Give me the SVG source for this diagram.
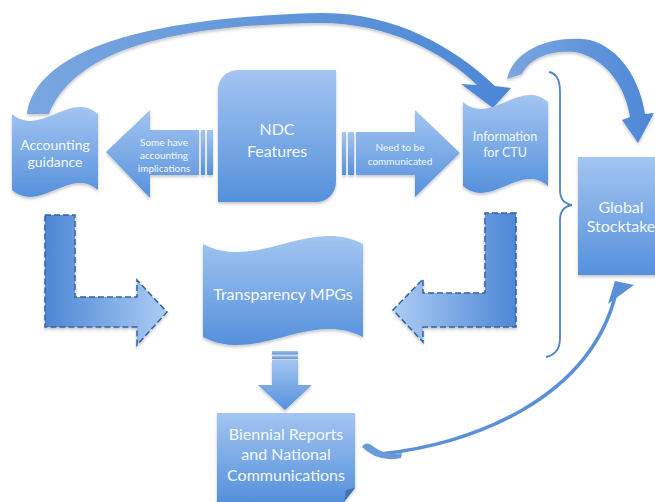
<svg xmlns="http://www.w3.org/2000/svg" width="655" height="502" viewBox="0 0 655 502">
<defs>
<linearGradient id="gNode" x1="0" y1="0" x2="0" y2="1">
<stop offset="0" stop-color="#a3c5f1"/><stop offset="1" stop-color="#5591dc"/>
</linearGradient>
<linearGradient id="gArc" x1="0" y1="0" x2="1" y2="0">
<stop offset="0" stop-color="#7aa6e0"/><stop offset="1" stop-color="#4c87d6"/>
</linearGradient>
<linearGradient id="gLL" x1="0" y1="0" x2="1" y2="0">
<stop offset="0" stop-color="#4c87d6"/><stop offset="1" stop-color="#acccf3"/>
</linearGradient>
<linearGradient id="gRL" x1="1" y1="0" x2="0" y2="0">
<stop offset="0" stop-color="#4c87d6"/><stop offset="1" stop-color="#acccf3"/>
</linearGradient>
<filter id="sh" x="-10%" y="-10%" width="120%" height="125%">
<feDropShadow dx="0" dy="2" stdDeviation="1.5" flood-color="#000" flood-opacity="0.22"/>
</filter>
<style>
.node{fill:url(#gNode);filter:url(#sh);}
.arc{fill:url(#gArc);filter:url(#sh);}
.t{fill:#f4f8fe;font-family:Lato,"Open Sans",sans-serif;text-anchor:middle;}
.big{font-size:16px;}
.mid{font-size:14px;}
.info{font-size:12.5px;}
.sm{font-size:10px;}
.dash{stroke:#35629e;stroke-width:1.5;stroke-dasharray:6 3;filter:url(#sh);}
.brace{fill:none;stroke:#5283c4;stroke-width:1.8;}
</style>
</defs>

<g id="connectors">
<path id="arc-top" class="arc" d="M 27,114 C 35,55 130,18 320,13 C 395,12 455,48 495,86 L 511,88 L 493,108 L 461,84 L 477,85 C 443,52 388,23 320,23 C 150,25 72,58 49,114 Z"/>
<path id="arc-right" class="arc" d="M 507,79 C 515,45 560,35 590,40 C 620,48 640,80 645,114 L 654,113 L 638,143 L 622,120 L 630,117 C 625,85 605,58 575,52 C 550,50 530,58 522,74 Z"/>
<g id="arrow-left">
<rect x="201" y="130" width="4" height="45" class="node"/>
<rect x="207" y="130" width="6" height="45" class="node"/>
<path class="node" d="M 199,130 L 150,130 L 150,110 L 106,152 L 150,198 L 150,175 L 199,175 Z"/>
</g>
<g id="arrow-right">
<rect x="342" y="132" width="4" height="43" class="node"/>
<rect x="348" y="132" width="6" height="43" class="node"/>
<path class="node" d="M 356,132 L 415,132 L 415,110 L 460,153 L 415,197 L 415,175 L 356,175 Z"/>
</g>
<path id="L-left" class="dash" fill="url(#gLL)" d="M 45,215 L 75,215 L 75,297 L 137,297 L 137,280 L 167,312 L 137,345 L 137,327 L 45,327 Z"/>
<path id="L-right" class="dash" fill="url(#gRL)" d="M 516,213 L 485,213 L 485,293 L 423,293 L 423,279 L 393,310 L 423,342 L 423,327 L 516,327 Z"/>
<g id="arrow-down">
<rect x="272" y="351" width="26" height="3.5" class="node"/>
<rect x="272" y="356" width="26" height="3" class="node"/>
<path class="node" d="M 272,360 L 298,360 L 298,385 L 312,385 L 285,410 L 258,385 L 272,385 Z"/>
</g>
<g id="arc-bottom">
<path d="M 380,454 C 470,445 590,400 616,293" fill="none" stroke="#5a90d8" stroke-width="3.5"/>
<path d="M 362,447 Q 366,440 374,447 Q 386,456 402,453 L 401,458 Q 378,463 362,447 Z" fill="#6b9ad8"/>
<path d="M 615,281 L 634,285 L 608,304 Z" fill="#5a90d8"/>
</g>
<path id="brace" class="brace" d="M 549,72 Q 560,74 560,92 L 560,190 Q 560,203 572,205 Q 560,207 560,220 L 560,338 Q 560,354 546,357"/>
</g>

<g id="accounting">
<path class="node" d="M 12,114 C 40.7,138 69.3,90 98,114 L 98,190 C 69.3,166 40.7,214 12,190 Z"/>
<text class="t mid" x="55" y="150">Accounting</text>
<text class="t mid" x="55" y="167">guidance</text>
</g>

<g id="ndc">
<path class="node" d="M 238,70 L 336,70 L 336,182 A 20 20 0 0 1 316,202 L 218,202 L 218,90 A 20 20 0 0 1 238,70 Z"/>
<text class="t big" x="277" y="135">NDC</text>
<text class="t big" x="277" y="157">Features</text>
</g>
<text class="t sm" x="164" y="146">Some have</text>
<text class="t sm" x="164" y="159">accounting</text>
<text class="t sm" x="164" y="172">implications</text>
<text class="t sm" x="400" y="151">Need to be</text>
<text class="t sm" x="400" y="165">communicated</text>

<g id="info-ctu">
<path class="node" d="M 463,102 C 491.3,126 519.7,78 548,102 L 548,186 C 519.7,162 491.3,210 463,186 Z"/>
<text class="t info" x="505" y="141">Information</text>
<text class="t info" x="505" y="157">for CTU</text>
</g>

<g id="global">
<rect class="node" x="578" y="157" width="85" height="118"/>
<text class="t big" x="621" y="213">Global</text>
<text class="t big" x="621" y="232">Stocktake</text>
</g>

<g id="transparency">
<path class="node" d="M 203,244 C 256,272 310,216 363,244 L 363,337 C 310,309 256,365 203,337 Z"/>
<text class="t big" x="283" y="300">Transparency MPGs</text>
</g>

<g id="biennial">
<path class="node" d="M 217,413 L 355,413 L 355,488 L 344,502 L 217,502 Z"/>
<path d="M 355,488 L 344,502 L 346,490 Z" fill="#3f73b8"/>
<text class="t big" x="286" y="440">Biennial Reports</text>
<text class="t big" x="286" y="460">and National</text>
<text class="t big" x="286" y="481">Communications</text>
</g>
</svg>
